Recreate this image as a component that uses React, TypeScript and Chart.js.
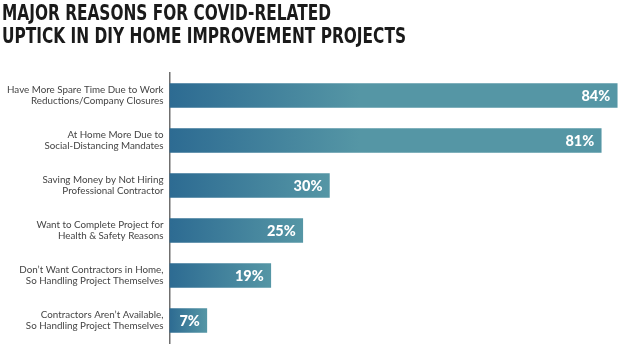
import React, { useEffect, useRef } from "react";
import { Chart, registerables } from "chart.js";

Chart.register(...registerables);

const titleLines = ["MAJOR REASONS FOR COVID-RELATED", "UPTICK IN DIY HOME IMPROVEMENT PROJECTS"];
const categories: string[][] = [
  ["Have More Spare Time Due to Work", "Reductions/Company Closures"],
  ["At Home More Due to", "Social-Distancing Mandates"],
  ["Saving Money by Not Hiring", "Professional Contractor"],
  ["Want to Complete Project for", "Health & Safety Reasons"],
  ["Don\u2019t Want Contractors in Home,", "So Handling Project Themselves"],
  ["Contractors Aren\u2019t Available,", "So Handling Project Themselves"],
];
const values = [84, 81, 30, 25, 19, 7];

const DARK = "#2d6b92";
const LIGHT = "#5596a5";

const titlePlugin = {
  id: "customTitle",
  afterDraw(chart: any) {
    const ctx = chart.ctx;
    ctx.save();
    ctx.fillStyle = "#1a1a1a";
    ctx.font = "bold 20.5px 'DejaVu Sans'";
    ctx.textAlign = "left";
    ctx.textBaseline = "alphabetic";
    ctx.fillText(titleLines[0], 2, 19.5, 329);
    ctx.fillText(titleLines[1], 2, 42.5, 404);
    ctx.restore();
  },
};

const valueLabelPlugin = {
  id: "valueLabels",
  afterDatasetsDraw(chart: any) {
    const ctx = chart.ctx;
    const meta = chart.getDatasetMeta(0);
    ctx.save();
    ctx.fillStyle = "#ffffff";
    ctx.font = "900 14.5px Lato";
    ctx.textAlign = "right";
    ctx.textBaseline = "middle";
    meta.data.forEach((bar: any, i: number) => {
      ctx.fillText(values[i] + "%", bar.x - 7, bar.y + 1);
    });
    ctx.restore();
  },
};

export default function App() {
  const ref = useRef<HTMLCanvasElement>(null);
  useEffect(() => {
    if (!ref.current) return;
    const chart = new Chart(ref.current, {
      type: "bar",
      data: {
        labels: categories,
        datasets: [
          {
            data: values,
            barThickness: 24,
            borderWidth: 0,
            backgroundColor: (c: any) => {
              const ch = c.chart;
              if (!ch.chartArea || !ch.scales.x) return DARK;
              const x0 = ch.scales.x.getPixelForValue(0);
              const x1 = ch.scales.x.getPixelForValue(values[c.dataIndex] ?? 0);
              const len = Math.max(10, Math.min(x1 - x0, 190));
              const g = ch.ctx.createLinearGradient(x0, 0, x0 + len, 0);
              g.addColorStop(0, DARK);
              g.addColorStop(1, LIGHT);
              return g;
            },
          },
        ],
      },
      options: {
        indexAxis: "y",
        animation: false,
        responsive: false,
        layout: { padding: { top: 73, bottom: 10, left: 0, right: 10 } },
        plugins: { legend: { display: false }, tooltip: { enabled: false }, title: { display: false } },
        scales: {
          x: { display: false, min: 0, max: 86.4 },
          y: {
            afterFit: (s: any) => {
              s.width = 169.5;
            },
            grid: { display: false, drawTicks: false },
            border: { display: true, color: "#6f6f6f", width: 1.5 },
            ticks: {
              padding: 6,
              color: "#444444",
              font: { family: "Lato", size: 9.8, lineHeight: 1.12 },
            },
          },
        },
      },
      plugins: [titlePlugin, valueLabelPlugin],
    } as any);
    return () => chart.destroy();
  }, []);
  return (
    <div style={{ position: "fixed", left: 0, top: 0, width: 640, height: 360, background: "#fff" }}>
      <canvas ref={ref} width={640} height={360} style={{ display: "block" }} />
    </div>
  );
}
